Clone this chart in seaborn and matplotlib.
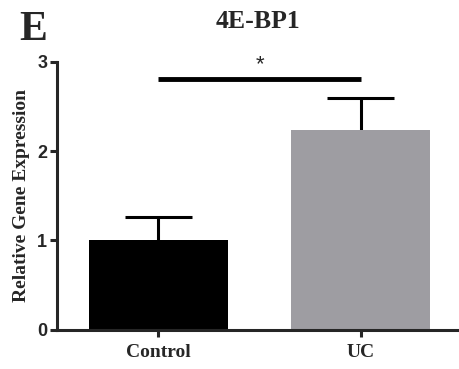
import matplotlib
matplotlib.use("Agg")
import matplotlib.pyplot as plt
import seaborn as sns
import pandas as pd
import numpy as np

groups = ["Control", "UC"]
means = [1.0, 2.24]
sems = [0.26, 0.35]
colors = ["#000000", "#9e9da2"]
title = "4E-BP1"
ylabel = "Relative Gene Expression"
yticks = [0, 1, 2, 3]

df = pd.DataFrame({"group": groups, "value": means})

sns.set_style("ticks")
fig = plt.figure(figsize=(4.6, 3.69), dpi=100)
ax = fig.add_axes([0.124, 0.106, 0.876, 0.727])

sns.barplot(data=df, x="group", y="value", hue="group", palette=colors,
            width=0.685, errorbar=None, legend=False, ax=ax, saturation=1,
            linewidth=0, zorder=2)
x = np.arange(len(groups))
tops = np.array(means) + np.array(sems)
ax.vlines(x, means, tops, color="black", lw=2.2, zorder=1)
ax.hlines(tops, x - 0.165, x + 0.165, color="black", lw=2.2, zorder=1)

ax.set_ylim(0, 3)
ax.set_xlim(-0.5, 1.49)
ax.set_yticks(yticks)
ax.set_yticklabels([str(t) for t in yticks], fontfamily="Liberation Sans",
                   fontweight="bold", fontsize=13)
ax.set_xticks(x)
ax.set_xticklabels(groups, fontfamily="Liberation Serif", fontweight="bold",
                   fontsize=14)
ax.set_xlabel("")
ax.set_ylabel(ylabel, fontfamily="Liberation Serif", fontweight="bold",
              fontsize=14, labelpad=5)
for s in ["left", "bottom"]:
    ax.spines[s].set_linewidth(2.2)
sns.despine(ax=ax)
ax.tick_params(width=2.2, length=5, pad=2)
ax.tick_params(axis="x", pad=5)

# significance bar
ax.plot([0, 1], [2.81, 2.81], color="black", lw=3.5, solid_capstyle="butt",
        clip_on=False)
ax.text(0.5, 2.97, "*", ha="center", va="center", fontsize=16,
        fontfamily="Liberation Sans")

fig.text(0.561, 0.943, title, ha="center", va="center",
         fontfamily="Liberation Serif", fontweight="bold", fontsize=18.5)
fig.text(0.072, 0.92, "E", ha="center", va="center",
         fontfamily="Liberation Serif", fontweight="bold", fontsize=30)

fig.savefig("out.png", dpi=100)
